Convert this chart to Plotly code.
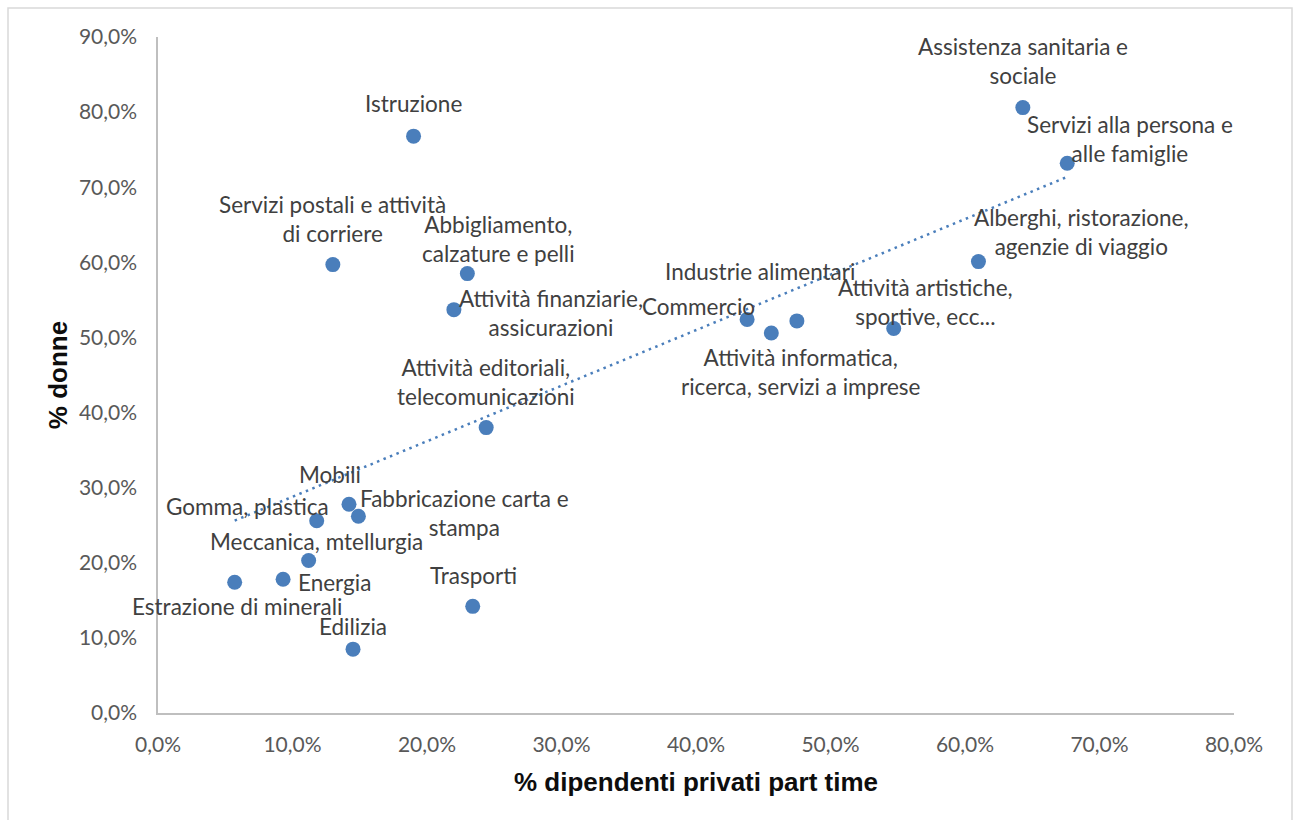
import numpy as np
import plotly.graph_objects as go

# Settori di attività economica
settori = [
    "Assistenza sanitaria e<br>sociale",
    "Servizi alla persona e<br>alle famiglie",
    "Istruzione",
    "Servizi postali e attività<br>di corriere",
    "Abbigliamento,<br>calzature e pelli",
    "Attività finanziarie,<br>assicurazioni",
    "Alberghi, ristorazione,<br>agenzie di viaggio",
    "Commercio",
    "Attività informatica,<br>ricerca, servizi a imprese",
    "Industrie alimentari",
    "Attività artistiche,<br>sportive, ecc...",
    "Attività editoriali,<br>telecomunicazioni",
    "Mobili",
    "Fabbricazione carta e<br>stampa",
    "Gomma, plastica",
    "Meccanica, mtellurgia",
    "Energia",
    "Estrazione di minerali",
    "Trasporti",
    "Edilizia",
]

# % dipendenti privati part time
part_time = [0.643, 0.676, 0.190, 0.130, 0.230, 0.220, 0.610, 0.438, 0.456, 0.475,
             0.547, 0.244, 0.142, 0.149, 0.118, 0.112, 0.093, 0.057, 0.234, 0.145]

# % donne
donne = [0.806, 0.732, 0.768, 0.597, 0.585, 0.537, 0.601, 0.524, 0.506, 0.522,
         0.512, 0.380, 0.278, 0.262, 0.256, 0.203, 0.178, 0.174, 0.142, 0.085]

# Spostamento delle etichette rispetto al punto (dx, dy in pixel)
label_shift = [
    (0, 47), (63, 24), (0, 33), (0, 46),
    (31, 35), (97, -3), (103, 30), (-49, 13),
    (29, -39), (-37, 49), (32, 26), (0, 46),
    (-19, 30), (106, 3), (-69, 14), (8, 19),
    (51, -3), (2, -24), (1, 31), (0, 23),
]

BLUE = "#4a7ebb"
FONT = "Lato"
TEXT = "#404040"
TITLE_FONT = dict(family="Liberation Sans, Arial", size=26, color="#0d0d0d")

fig = go.Figure()

fig.add_trace(go.Scatter(
    x=part_time, y=donne, mode="markers",
    marker=dict(size=15, color=BLUE, line=dict(width=0)),
    hoverinfo="skip", showlegend=False,
))

# Linea di tendenza lineare
xs = np.array(part_time)
ys = np.array(donne)
slope, intercept = np.polyfit(xs, ys, 1)
x_tr = np.array([xs.min(), xs.max()])
fig.add_trace(go.Scatter(
    x=x_tr, y=slope * x_tr + intercept, mode="lines",
    line=dict(color=BLUE, width=2.5, dash="2.5px,4.5px"),
    hoverinfo="skip", showlegend=False,
))

for name, x, y, (dx, dy) in zip(settori, part_time, donne, label_shift):
    fig.add_annotation(
        x=x, y=y, text=name, showarrow=False,
        xshift=dx, yshift=dy, xanchor="center", yanchor="middle",
        align="center",
        font=dict(family=FONT, size=22.5, color=TEXT),
    )

fig.update_layout(
    width=1293, height=820,
    margin=dict(l=158, r=59, t=37, b=107),
    paper_bgcolor="white", plot_bgcolor="white",
    separators=",.",
    font=dict(family=FONT, size=21, color="#595959"),
    xaxis=dict(
        range=[0, 0.8], dtick=0.1, tickformat=".1%",
        showgrid=False, zeroline=False,
        showline=True, linecolor="#bfbfbf", linewidth=1.5,
        ticks="", ticklabelstandoff=12,
        title=dict(text="<b>% dipendenti privati part time</b>",
                   font=TITLE_FONT, standoff=18),
    ),
    yaxis=dict(
        range=[0, 0.9], dtick=0.1, tickformat=".1%",
        showgrid=False, zeroline=False,
        showline=True, linecolor="#bfbfbf", linewidth=1.5,
        ticks="", ticklabelstandoff=15,
        title=dict(text="<b>% donne</b>", font=TITLE_FONT, standoff=4),
    ),
    shapes=[dict(
        type="rect", xref="paper", yref="paper",
        x0=(8 - 158) / 1076, x1=(1292 - 158) / 1076,
        y0=-0.25, y1=1 + (37 - 8) / 676,
        line=dict(color="#d9d9d9", width=1.5), layer="below",
    )],
)

fig.write_html("out.html")
